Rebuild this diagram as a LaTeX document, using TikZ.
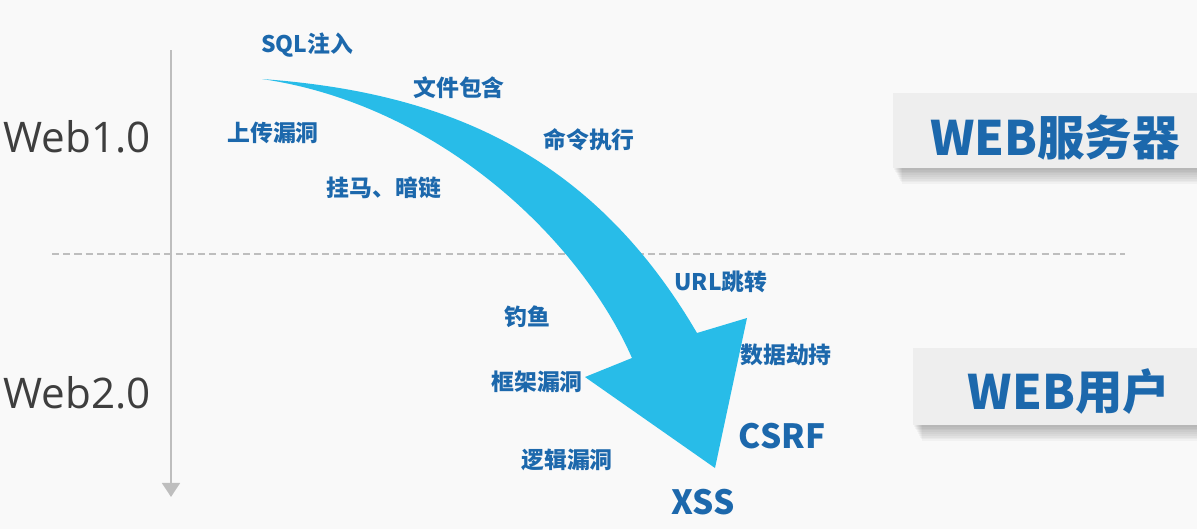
\documentclass[tikz,border=0pt]{standalone}
\usepackage{fontspec}
\setmainfont{Open Sans}
\newfontfamily\cjk{Noto Sans CJK SC}
\usepackage{xcolor}
\usetikzlibrary{positioning,arrows.meta}

\definecolor{bgwhite}{RGB}{249,249,249}
\definecolor{arrowcyan}{RGB}{40,188,232}
\definecolor{labelblue}{RGB}{28,104,172}
\definecolor{eragray}{RGB}{62,62,62}
\definecolor{axisgray}{RGB}{190,190,190}
\definecolor{boxgray}{RGB}{238,238,238}

\begin{document}
\begin{tikzpicture}[
    x=0.02cm, y=-0.02cm,
    attack/.style={font=\cjk\bfseries\fontsize{13}{15}\selectfont, text=labelblue, inner sep=0pt},
    bigattack/.style={attack, font=\cjk\bfseries\fontsize{19}{22}\selectfont},
    era/.style={font=\fontsize{24}{27}\selectfont, text=eragray, inner sep=0pt},
    sidetext/.style={font=\cjk\bfseries\fontsize{27}{30}\selectfont, text=labelblue, inner sep=0pt},
    timeaxis/.style={draw=axisgray, line width=1.7pt, -{Triangle[width=10pt,length=8pt]}},
    divider/.style={draw=axisgray, line width=1.1pt, dash pattern=on 4pt off 2.4pt}
]
\useasboundingbox[fill=bgwhite] (0,0) rectangle (1197,529);

% side panels
\foreach \k in {1,...,9} {
    \fill[black, opacity=0.03] (893+\k,93+\k) rectangle (1200,168+1.8*\k);
    \fill[black, opacity=0.03] (913+\k,348+\k) rectangle (1200,425+1.8*\k);
}
\fill[boxgray] (893,93) rectangle (1200,168);
\fill[boxgray] (913,348) rectangle (1200,425);
\node[sidetext] (server) at (1055,137) {WEB服务器};
\node[sidetext] (user) at (1069,392) {WEB用户};

% axis and divider
\coordinate (axistop) at (171,50);
\coordinate (axisend) at (171,497);
\coordinate (divleft) at (52,254);
\coordinate (divright) at (1125,254);
\draw[divider] (divleft) -- (divright);
\draw[timeaxis] (axistop) -- (axisend);

\node[era] (web1) at (77,137) {Web1.0};
\node[era] (web2) at (77,393) {Web2.0};

% trend arrow
\fill[arrowcyan] (262,79) .. controls (440,92) and (590,150) .. (697,333)
    -- (747,318) -- (715,468) -- (585,377) -- (632,358)
    .. controls (580,240) and (440,105) .. (262,79) -- cycle;

\node[attack] (sql) at (307,45) {SQL注入};
\node[attack] (include) at (459,88) {文件包含};
\node[attack] (upload) at (273,133) {上传漏洞};
\node[attack] (cmd) at (589,140) {命令执行};
\node[attack] (trojan) at (384,188) {挂马、暗链};
\node[attack] (redirect) at (721,282) {URL跳转};
\node[attack] (phish) at (527,317) {钓鱼};
\node[attack] (hijack) at (786,355) {数据劫持};
\node[attack] (frame) at (537,382) {框架漏洞};
\node[attack] (logic) at (567,460) {逻辑漏洞};
\node[bigattack] (csrf) at (782,436) {CSRF};
\node[bigattack] (xss) at (703,502) {XSS};
\end{tikzpicture}
\end{document}
